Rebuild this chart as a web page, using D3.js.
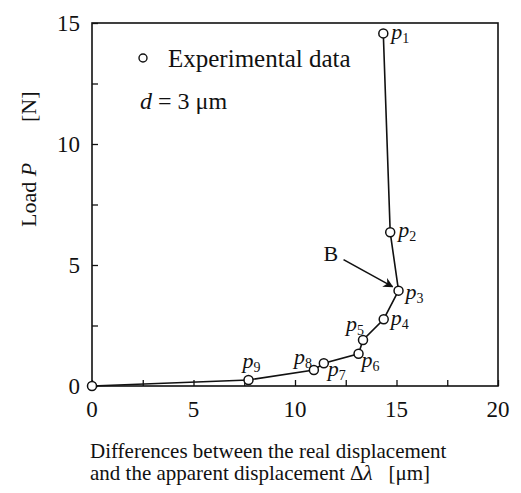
<!DOCTYPE html>
<html>
<head>
<meta charset="utf-8">
<script src="https://cdn.jsdelivr.net/npm/d3@7"></script>
<style>
  body { margin: 0; background: #fff; }
  text { font-family: "Liberation Serif", "Times New Roman", serif; fill: #111; }
</style>
</head>
<body>
<div id="chart"></div>
<script>
// data
var dispValues = [0, 7.71, 10.93, 11.42, 13.13, 13.35, 14.37, 15.1, 14.69, 14.35];
var loadValues = [0, 0.25, 0.66, 0.94, 1.33, 1.90, 2.76, 3.94, 6.35, 14.57];
var pointNames = ["", "9", "8", "7", "6", "5", "4", "3", "2", "1"];
var xTicks = [0, 5, 10, 15, 20];
var yTicks = [0, 5, 10, 15];

var W = 521, H = 493;
var margin = {top: 23, right: 23, bottom: 107, left: 92};
var width = W - margin.left - margin.right,
    height = H - margin.top - margin.bottom;

var svg = d3.select("#chart").append("svg")
  .attr("width", W).attr("height", H);
var g = svg.append("g")
  .attr("transform", "translate(" + margin.left + "," + margin.top + ")");

var x = d3.scaleLinear().domain([0, 20]).range([0, width]);
var y = d3.scaleLinear().domain([0, 15]).range([height, 0]);

// frame
g.append("rect").attr("width", width).attr("height", height)
  .attr("fill", "none").attr("stroke", "#111").attr("stroke-width", 1.6);

// inward ticks
var xa = g.append("g").attr("transform", "translate(0," + height + ")")
  .call(d3.axisBottom(x).tickValues(d3.range(0, 20.1, 2.5)).tickSize(-6).tickFormat(""));
var ya = g.append("g")
  .call(d3.axisLeft(y).tickValues(d3.range(0, 15.1, 2.5)).tickSize(-6).tickFormat(""));
[xa, ya].forEach(function(a) {
  a.select(".domain").remove();
  a.selectAll("line").attr("stroke", "#111").attr("stroke-width", 1.3);
});

// tick labels
g.selectAll(".xt").data(xTicks).enter().append("text")
  .attr("x", function(d) { return x(d); })
  .attr("y", height + 31)
  .attr("text-anchor", "middle")
  .style("font-size", "23px")
  .text(function(d) { return d; });
g.selectAll(".yt").data(yTicks).enter().append("text")
  .attr("x", -12)
  .attr("y", function(d) { return y(d) + 8; })
  .attr("text-anchor", "end")
  .style("font-size", "23px")
  .text(function(d) { return d; });

// axis titles
var yl = svg.append("text")
  .attr("transform", "translate(36,227) rotate(-90)")
  .style("font-size", "22px");
yl.append("tspan").text("Load ");
yl.append("tspan").style("font-style", "italic").text("P");
yl.append("tspan").attr("x", 105).text("[N]");

svg.append("text").attr("x", 90).attr("y", 458)
  .style("font-size", "21px")
  .text("Differences between the real displacement");
var xl2 = svg.append("text").attr("x", 90).attr("y", 480).style("font-size", "21px");
xl2.append("tspan").text("and the apparent displacement \u0394");
xl2.append("tspan").style("font-style", "italic").text("\u03bb");
xl2.append("tspan").attr("xml:space", "preserve").text("   [\u03bcm]");

// line + points
var pts = dispValues.map(function(d, i) { return {x: d, y: loadValues[i], name: pointNames[i]}; });
var line = d3.line().x(function(d) { return x(d.x); }).y(function(d) { return y(d.y); });
g.append("path").datum(pts).attr("d", line)
  .attr("fill", "none").attr("stroke", "#111").attr("stroke-width", 1.6);
g.selectAll(".pt").data(pts).enter().append("circle")
  .attr("cx", function(d) { return x(d.x); })
  .attr("cy", function(d) { return y(d.y); })
  .attr("r", 4.5)
  .attr("fill", "#fff").attr("stroke", "#111").attr("stroke-width", 1.5);

// point labels (offsets relative to each point)
var offs = {
  "1": [8, 6], "2": [8, 5], "3": [7, 8], "4": [7, 6], "5": [-17, -9],
  "6": [3, 13], "7": [4, 13], "8": [-20, -6], "9": [-6, -12]
};
pts.filter(function(d) { return d.name; }).forEach(function(d) {
  var o = offs[d.name];
  var t = g.append("text")
    .attr("x", x(d.x) + o[0]).attr("y", y(d.y) + o[1])
    .style("font-size", "22px");
  t.append("tspan").style("font-style", "italic").text("p");
  t.append("tspan").attr("dy", 4).style("font-size", "14px").text(d.name);
});

// legend
g.append("circle").attr("cx", 51).attr("cy", 35).attr("r", 4)
  .attr("fill", "#fff").attr("stroke", "#111").attr("stroke-width", 1.4);
g.append("text").attr("x", 76).attr("y", 44).style("font-size", "25px").text("Experimental data");
var dl = g.append("text").attr("x", 48).attr("y", 86).style("font-size", "24px");
dl.append("tspan").style("font-style", "italic").text("d");
dl.append("tspan").text(" = 3 \u03bcm");

// B arrow pointing to p3
var p3 = pts[7];
svg.append("defs").append("marker").attr("id", "ah")
  .attr("viewBox", "0 0 10 10").attr("refX", 9).attr("refY", 5)
  .attr("markerWidth", 10).attr("markerHeight", 10).attr("orient", "auto")
  .attr("markerUnits", "userSpaceOnUse")
  .append("path").attr("d", "M0,0 L10,5 L0,10 L3,5 Z").attr("fill", "#111");
g.append("line")
  .attr("x1", x(p3.x) - 55).attr("y1", y(p3.y) - 31)
  .attr("x2", x(p3.x) - 6).attr("y2", y(p3.y) - 4)
  .attr("stroke", "#111").attr("stroke-width", 1.6)
  .attr("marker-end", "url(#ah)");
g.append("text").attr("x", x(p3.x) - 75).attr("y", y(p3.y) - 30)
  .style("font-size", "22px").text("B");
</script>
</body>
</html>
